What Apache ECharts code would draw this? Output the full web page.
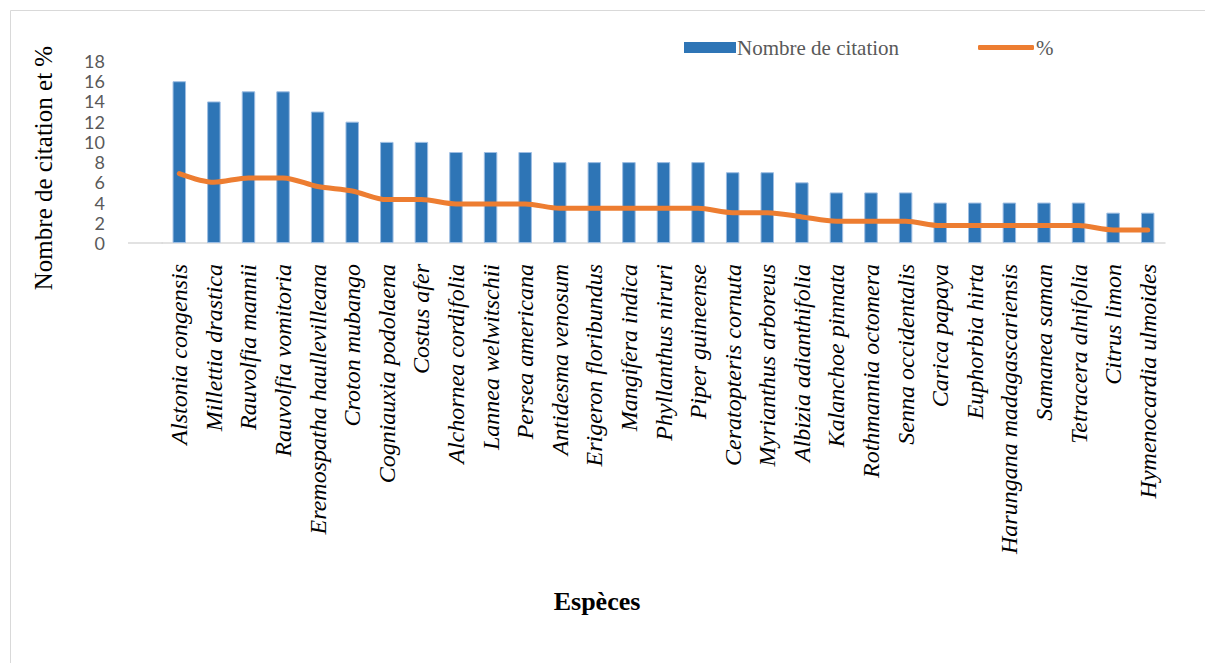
<!DOCTYPE html>
<html>
<head>
<meta charset="utf-8">
<script src="https://cdn.jsdelivr.net/npm/echarts@6/dist/echarts.min.js"></script>
<style>html,body{margin:0;padding:0;background:#fff}#c{width:1205px;height:663px}</style>
</head>
<body>
<div id="c"></div>
<script>
const species = ['Alstonia congensis','Millettia drastica','Rauvolfia mannii','Rauvolfia vomitoria','Eremospatha haullevilleana','Croton mubango','Cogniauxia podolaena','Costus afer','Alchornea cordifolia','Lannea welwitschii','Persea americana','Antidesma venosum','Erigeron floribundus','Mangifera indica','Phyllanthus niruri','Piper guineense','Ceratopteris cornuta','Myrianthus arboreus','Albizia adianthifolia','Kalanchoe pinnata','Rothmannia octomera','Senna occidentalis','Carica papaya','Euphorbia hirta','Harungana madagascariensis','Samanea saman','Tetracera alnifolia','Citrus limon','Hymenocardia ulmoides'];
const citations = [16,14,15,15,13,12,10,10,9,9,9,8,8,8,8,8,7,7,6,5,5,5,4,4,4,4,4,3,3];
const percent = [6.87,6.01,6.44,6.44,5.58,5.15,4.29,4.29,3.86,3.86,3.86,3.43,3.43,3.43,3.43,3.43,3.00,3.00,2.58,2.15,2.15,2.15,1.72,1.72,1.72,1.72,1.72,1.29,1.29];
const yTicks = {min: 0, max: 18, interval: 2};

const chart = echarts.init(document.getElementById('c'), null, {renderer: 'svg'});
chart.setOption({
  animation: false,
  grid: {left: 162, right: 40, top: 61, bottom: 420, containLabel: false},
  legend: [
    {data: ['Nombre de citation'], left: 679, top: 32, itemWidth: 52, itemHeight: 11, icon: 'rect', itemStyle: {borderWidth: 0},
     textStyle: {fontFamily: 'Liberation Serif', fontSize: 21, color: '#595959', padding: [0, 0, 0, -4]}},
    {data: ['%'], left: 973, top: 32, itemWidth: 56, itemHeight: 5, icon: 'roundRect',
     textStyle: {fontFamily: 'Liberation Serif', fontSize: 21, color: '#595959', padding: [0, 0, 0, -3]}}
  ],
  xAxis: {
    type: 'category', data: species,
    axisLine: {lineStyle: {color: '#d9d9d9', width: 1.5}},
    axisTick: {show: false},
    axisLabel: {rotate: 90, margin: 21, interval: 0, fontFamily: 'Liberation Serif', fontStyle: 'italic', fontSize: 24, color: '#000'}
  },
  yAxis: {
    type: 'value', min: yTicks.min, max: yTicks.max, interval: yTicks.interval,
    splitLine: {show: false}, axisLine: {show: false}, axisTick: {show: false},
    axisLabel: {margin: 57, fontFamily: 'Lato', fontSize: 18, color: '#595959'}
  },
  graphic: [
    {type: 'rect', shape: {x: 10.5, y: 10.5, width: 1210, height: 670}, style: {fill: 'none', stroke: '#d9d9d9', lineWidth: 1}, silent: true},
    {type: 'line', shape: {x1: 128, y1: 243, x2: 163, y2: 243}, style: {stroke: '#d9d9d9', lineWidth: 1.5}},
    {type: 'text', x: 43, y: 168, rotation: Math.PI / 2,
     style: {text: 'Nombre de citation et %', font: '25px "Liberation Serif"', fill: '#000', align: 'center', verticalAlign: 'middle'}},
    {type: 'text', x: 597, y: 601, style: {text: 'Espèces', font: 'bold 26px "Liberation Serif"', fill: '#000', align: 'center', verticalAlign: 'middle'}}
  ],
  series: [
    {name: 'Nombre de citation', type: 'bar', data: citations, barWidth: '39%',
     itemStyle: {color: '#2E75B6', borderColor: '#9dbde2', borderWidth: 1}},
    {name: '%', type: 'line', data: percent, smooth: 0.3, symbol: 'none',
     lineStyle: {color: '#ED7D31', width: 5, cap: 'round', join: 'round'}, itemStyle: {color: '#ED7D31'}}
  ]
});
</script>
</body>
</html>
